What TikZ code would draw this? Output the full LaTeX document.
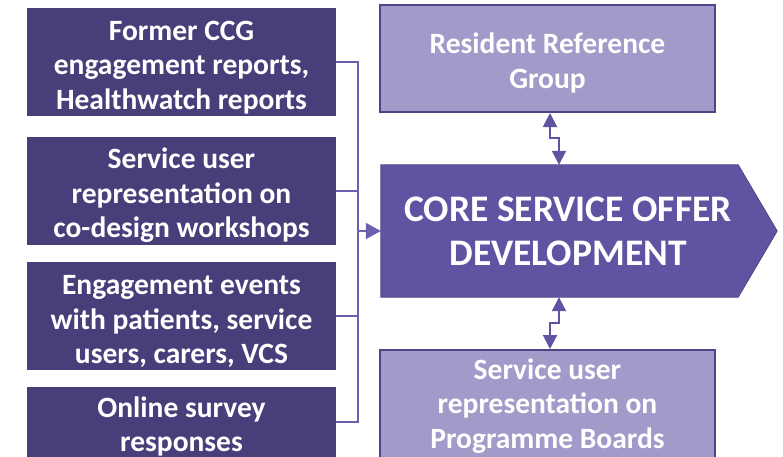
\documentclass[tikz,border=0pt]{standalone}
\usepackage{fontspec}
\setmainfont{Carlito}
\usetikzlibrary{arrows.meta,positioning,backgrounds}

\definecolor{inputfill}{RGB}{72,62,122}
\definecolor{groupfill}{RGB}{160,155,201}
\definecolor{groupline}{RGB}{78,68,134}
\definecolor{corefill}{RGB}{95,84,161}
\definecolor{linkcol}{RGB}{106,96,176}

% extra room above the first line, so the text sits a little lower
\newcommand{\lift}{\rule{0pt}{30pt}}

\tikzset{
    inputbox/.style={fill=inputfill, text=white, align=center,
        minimum width=309, minimum height=108, inner sep=0pt,
        font=\fontsize{29.5}{34.5}\selectfont\bfseries},
    groupbox/.style={fill=groupfill, draw=groupline, line width=2pt, text=white, align=center,
        minimum width=335, minimum height=107, inner sep=0pt,
        font=\fontsize{29.5}{34.5}\selectfont\bfseries},
    link/.style={draw=linkcol, line width=2pt},
    twoway/.style={draw=corefill, line width=2pt, {Triangle[width=14pt,length=14pt]}-{Triangle[width=14pt,length=14pt]}},
}

\begin{document}
\begin{tikzpicture}[x=1pt, y=-1pt]
    %% Background
    \useasboundingbox (0,0) rectangle (783,456);

    %% Inputs
    \node[inputbox] (ccg) at (181.5,62) {\lift Former CCG\\engagement reports,\\Healthwatch reports};
    \node[inputbox] (codesign) at (181.5,190.5) {\lift Service user\\representation on\\co-design workshops};
    \node[inputbox] (events) at (181.5,316) {\lift Engagement events\\with patients, service\\users, carers, VCS};
    \node[inputbox, minimum height=68] (survey) at (181.5,422) {\lift Online survey\\responses};

    %% Core offer
    \node[text=white, align=center, minimum width=374, minimum height=132, inner sep=0pt,
        font=\fontsize{37.5}{44}\selectfont\bfseries] (core) at (568,231) {CORE SERVICE OFFER\\DEVELOPMENT};
    \begin{scope}[on background layer]
        \fill[corefill, draw=groupline, line width=0.8pt]
            (core.north west) -- ([xshift=-17]core.north east) -- ([xshift=22]core.east)
            -- ([xshift=-17]core.south east) -- (core.south west) -- cycle;
    \end{scope}

    %% Groups
    \node[groupbox] (rrg) at (547.5,58.5) {\lift Resident Reference\\Group};
    \node[groupbox, minimum height=112] (boards) at (547.5,406) {Service user\\representation on\\Programme Boards};

    %% Bus
    \coordinate (bus) at (358,0);
    \draw[link] (ccg.east) -- (bus |- ccg.east) -- (bus |- survey.east) -- (survey.east);
    \draw[link] (codesign.east) -- (bus |- codesign.east);
    \draw[link] (events.east) -- (bus |- events.east);
    \draw[link, -{Triangle[width=16pt,length=15pt]}] (bus |- core.west) -- (core.west);

    %% Two-way links
    \draw[twoway] (550,0 |- rrg.south) -- (550,138) -- (559,138) -- (559,0 |- core.north);
    \draw[twoway] (559,0 |- core.south) -- (559,323) -- (550,323) -- (550,0 |- boards.north);
\end{tikzpicture}
\end{document}
